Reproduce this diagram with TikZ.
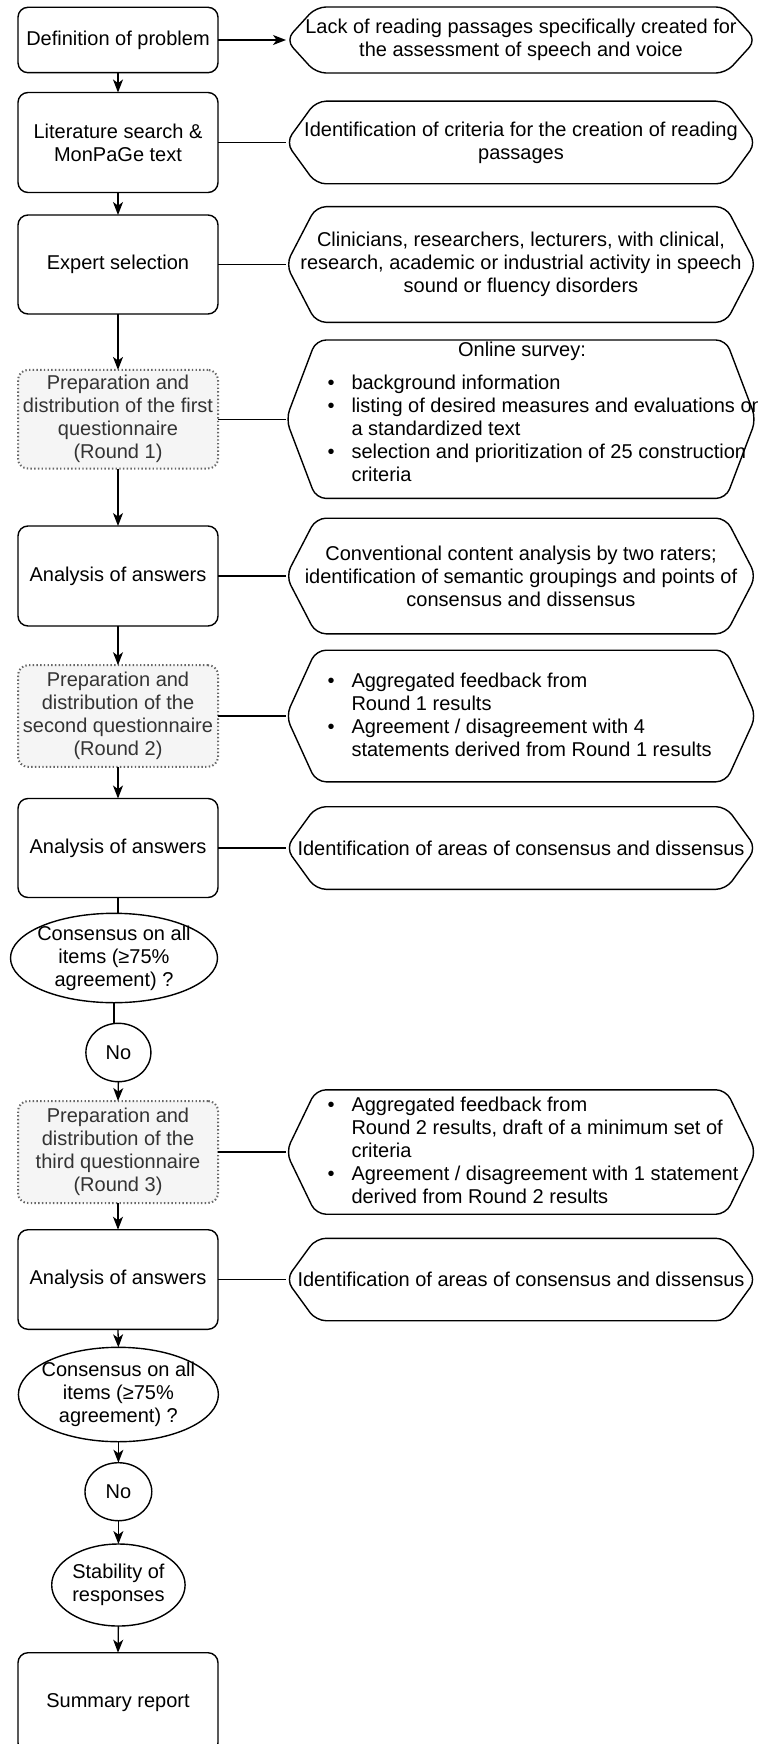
\documentclass[tikz,border=0pt]{standalone}
\usepackage{fontspec}
\setmainfont{Liberation Sans}
\usetikzlibrary{shapes.geometric,arrows.meta,calc}
\definecolor{prepfill}{HTML}{F5F5F5}
\definecolor{prepline}{HTML}{666666}
\definecolor{preptext}{HTML}{333333}
\newcommand{\hexdraw}[1]{%
  \draw[hexline] (#1.west) -- ($(#1.north west)+(30,0)$) -- ($(#1.north east)+(-30,0)$)
    -- (#1.east) -- ($(#1.south east)+(-30,0)$) -- ($(#1.south west)+(30,0)$) -- cycle;}
\begin{document}
\begin{tikzpicture}[x=0.5pt,y=-0.5pt,
  every node/.style={font=\fontsize{10}{11.5}\selectfont, inner sep=0pt, outer sep=0pt},
  stepbox/.style={draw, line width=0.7pt, rounded corners=5pt, minimum width=100pt, minimum height=50pt, align=center},
  prepbox/.style={draw=prepline, fill=prepfill, text=preptext, line width=1pt,
     dash pattern=on 0.7pt off 1.15pt, rounded corners=5pt, minimum width=100pt, align=center},
  hexbox/.style={minimum width=235pt, align=center},
  hexline/.style={line width=0.7pt, rounded corners=5pt},
  oval/.style={draw, ellipse, line width=0.7pt},
  conn/.style={line width=0.65pt},
  arr/.style={conn, -{Stealth[length=6.5pt,width=5pt,inset=1.8pt]}},
  bullets/.style={anchor=west, align=left},
]
\useasboundingbox (0,0) rectangle (758,1744);
\clip (0,0) rectangle (758,1744);

% left column
\node[stepbox, minimum height=32.7pt] (b1) at (118,40) {Definition of problem};
\node[stepbox] (b2) at (118,142.5) {Literature search \&\\MonPaGe text};
\node[stepbox, minimum height=49.5pt] (b3) at (118,264.5) {Expert selection};
\node[prepbox, minimum height=49.3pt] (p1) at (118,419.2) {Preparation and\\distribution of the first\\questionnaire\\(Round 1)};
\node[stepbox] (b4) at (118,576) {Analysis of answers};
\node[prepbox, minimum height=50.8pt] (p2) at (118,716) {Preparation and\\distribution of the\\second questionnaire\\(Round 2)};
\node[stepbox, minimum height=49.5pt] (b5) at (118,848) {Analysis of answers};
\node[oval, minimum width=103.5pt, minimum height=44.7pt,
  label={[align=center]center:Consensus on all\\items (≥75\%\\agreement) ?}] (e1) at (114,958) {};
\node[oval, minimum width=32.5pt, minimum height=29.2pt, label={center:No}] (n1) at (118.4,1052.5) {};
\node[prepbox, minimum height=51pt] (p3) at (118,1152) {Preparation and\\distribution of the\\third questionnaire\\(Round 3)};
\node[stepbox, minimum height=49.8pt] (b6) at (118,1279.5) {Analysis of answers};
\node[oval, minimum width=100pt, minimum height=47.2pt,
  label={[align=center]center:Consensus on all\\items (≥75\%\\agreement) ?}] (e2) at (118.4,1394.5) {};
\node[oval, minimum width=33.4pt, minimum height=29pt, label={center:No}] (n2) at (118.4,1491.7) {};
\node[oval, minimum width=66.7pt, minimum height=41pt,
  label={[align=center]center:Stability of\\responses}] (s) at (118.4,1585) {};
\node[stepbox] (r) at (118,1702.7) {Summary report};

% right column (hexagons)
\node[hexbox, minimum height=33pt] (h1) at (521,40) {Lack of reading passages specifically created for\\the assessment of speech and voice};
\node[hexbox, minimum height=41.3pt] (h2) at (521,142.5) {Identification of criteria for the creation of reading\\passages};
\node[hexbox, minimum height=57.8pt] (h3) at (521,264.5) {Clinicians, researchers, lecturers, with clinical,\\research, academic or industrial activity in speech\\sound or fluency disorders};
\node[hexbox, minimum height=79.2pt] (h4) at (521,419.2) {};
\node[hexbox, minimum height=57.8pt] (h5) at (521,576) {Conventional content analysis by two raters;\\identification of semantic groupings and points of\\consensus and dissensus};
\node[hexbox, minimum height=65.8pt] (h6) at (521,716) {};
\node[hexbox, minimum height=41.3pt] (h7) at (521,848) {Identification of areas of consensus and dissensus};
\node[hexbox, minimum height=62.2pt] (h8) at (521,1152) {};
\node[hexbox, minimum height=41.2pt] (h9) at (521,1279.5) {Identification of areas of consensus and dissensus};

\foreach \h in {h1,h2,h3,h4,h5,h6,h7,h8,h9} {\hexdraw{\h}}

% texts of the bulleted hexagons
\node (h4title) at (522,351) {Online survey:};
\node[bullets] (h4list) at (327.5,430.4) {\begin{tabular}{@{}l@{\hspace{8.5pt}}l@{}}
\textbullet & background information\\
\textbullet & listing of desired measures and evaluations on\\
 & a standardized text\\
\textbullet & selection and prioritization of 25 construction\\
 & criteria
\end{tabular}};
\node[bullets] (h6list) at (327.5,717) {\begin{tabular}{@{}l@{\hspace{8.5pt}}l@{}}
\textbullet & Aggregated feedback from\\
 & Round 1 results\\
\textbullet & Agreement / disagreement with 4\\
 & statements derived from Round 1 results
\end{tabular}};
\node[bullets] (h8list) at (327.5,1153.3) {\begin{tabular}{@{}l@{\hspace{8.5pt}}l@{}}
\textbullet & Aggregated feedback from\\
 & Round 2 results, draft of a minimum set of\\
 & criteria\\
\textbullet & Agreement / disagreement with 1 statement\\
 & derived from Round 2 results
\end{tabular}};

% horizontal connectors
\draw[arr] (b1.east) -- (h1.west);
\draw[conn] (b2.east) -- (h2.west);
\draw[conn] (b3.east) -- (h3.west);
\draw[conn] (p1.east) -- (h4.west);
\draw[conn] (b4.east) -- (h5.west);
\draw[conn] (p2.east) -- (h6.west);
\draw[conn] (b5.east) -- (h7.west);
\draw[conn] (p3.east) -- (h8.west);
\draw[conn] (b6.east) -- (h9.west);

% vertical connectors
\draw[arr] (b1.south) -- (b2.north);
\draw[arr] (b2.south) -- (b3.north);
\draw[arr] (b3.south) -- (p1.north);
\draw[arr] (p1.south) -- (b4.north);
\draw[arr] (b4.south) -- (p2.north);
\draw[arr] (p2.south) -- (b5.north);
\draw[conn] (b5.south) -- (b5.south |- e1.north);
\draw[conn] (e1.south) -- (e1.south |- n1.north);
\draw[arr] (n1.south) -- (p3.north);
\draw[arr] (p3.south) -- (b6.north);
\draw[arr] (b6.south) -- (e2.north);
\draw[arr] (e2.south) -- (n2.north);
\draw[arr] (n2.south) -- (s.north);
\draw[arr] (s.south) -- (r.north);
\end{tikzpicture}
\end{document}
